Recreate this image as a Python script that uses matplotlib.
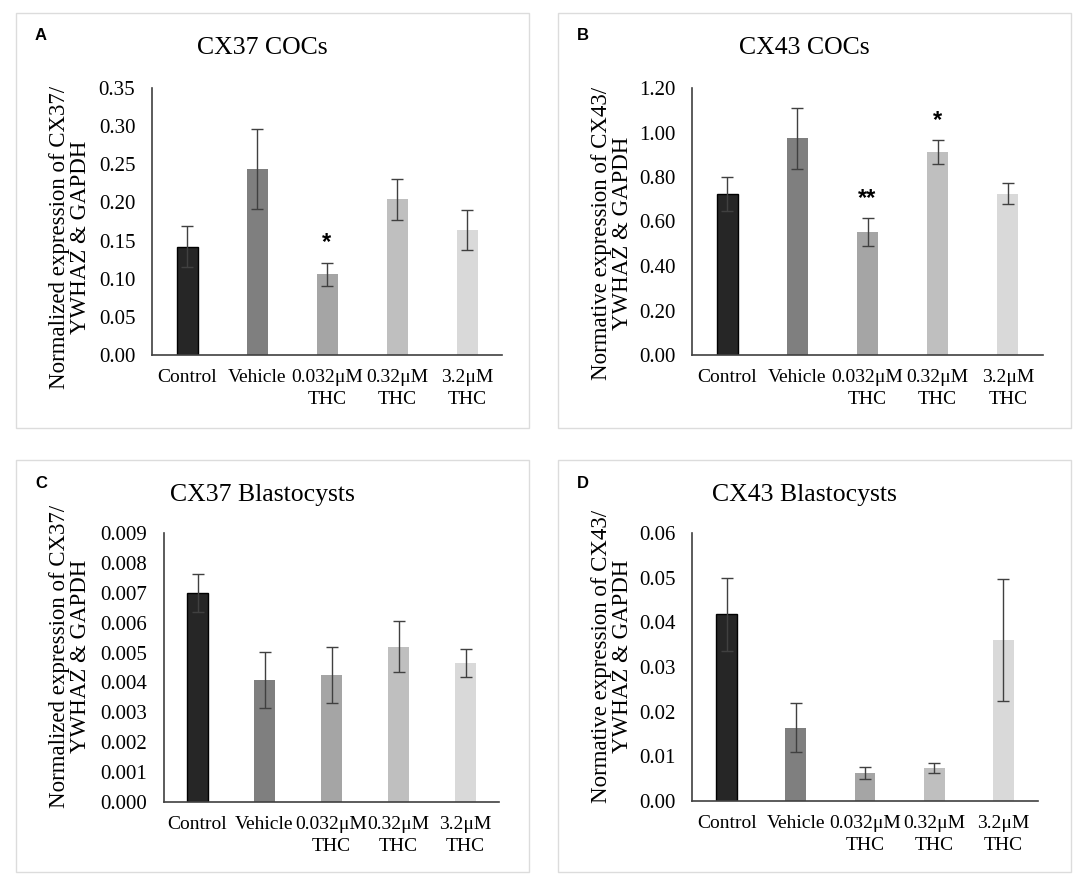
import matplotlib
matplotlib.use("Agg")
import matplotlib.pyplot as plt
from matplotlib.patches import Rectangle

W, H = 1084, 891

groups = ["Control", "Vehicle", "0.032\u03bcM\nTHC", "0.32\u03bcM\nTHC", "3.2\u03bcM\nTHC"]
bar_colors = ["#262626", "#7f7f7f", "#a5a5a5", "#bfbfbf", "#d9d9d9"]

cx37_cocs = [0.142, 0.244, 0.106, 0.204, 0.164]
cx37_cocs_err = [0.027, 0.052, 0.015, 0.027, 0.026]
cx37_cocs_ticks = [0.00, 0.05, 0.10, 0.15, 0.20, 0.25, 0.30, 0.35]
cx37_cocs_stars = ["", "", "*", "", ""]

cx43_cocs = [0.724, 0.975, 0.553, 0.912, 0.724]
cx43_cocs_err = [0.076, 0.137, 0.063, 0.054, 0.047]
cx43_cocs_ticks = [0.00, 0.20, 0.40, 0.60, 0.80, 1.00, 1.20]
cx43_cocs_stars = ["", "", "**", "*", ""]

cx37_blast = [0.00699, 0.00408, 0.00425, 0.00519, 0.00465]
cx37_blast_err = [0.00064, 0.00095, 0.00095, 0.00085, 0.00047]
cx37_blast_ticks = [0.000, 0.001, 0.002, 0.003, 0.004, 0.005, 0.006, 0.007, 0.008, 0.009]

cx43_blast = [0.0418, 0.0164, 0.0063, 0.0074, 0.0360]
cx43_blast_err = [0.0082, 0.0055, 0.0013, 0.0012, 0.0137]
cx43_blast_ticks = [0.00, 0.01, 0.02, 0.03, 0.04, 0.05, 0.06]

SERIF = ["Liberation Serif", "DejaVu Serif"]
SANS = ["Liberation Sans", "DejaVu Sans"]


def px_rect(left, top, right, bottom):
    return [left / W, 1 - bottom / H, (right - left) / W, (bottom - top) / H]


def px_text(fig, x, y, s, **kw):
    fig.text(x / W, 1 - y / H, s, **kw)


def draw_panel(fig, letter, title, ylabel, means, errs, ticks, fmt,
               frame, axes_px, label_y, stars=None):
    # light grey frame around the panel
    fl, ft, fr, fb = frame
    fig.patches.append(Rectangle((fl / W, 1 - fb / H), (fr - fl) / W, (fb - ft) / H,
                                 transform=fig.transFigure, fill=False,
                                 edgecolor="#dcdcdc", linewidth=1.0))

    l, t, r, b = axes_px
    ax = fig.add_axes(px_rect(l, t, r, b))
    x = list(range(len(groups)))
    ax.bar(x, means, width=0.3, color=bar_colors,
           edgecolor=["black", "none", "none", "none", "none"], linewidth=1.0,
           zorder=2)
    ax.errorbar(x, means, yerr=errs, fmt="none", ecolor="#404040",
                elinewidth=1.0, capsize=4, capthick=1.0, zorder=3)

    ax.set_xlim(-0.5, len(groups) - 0.5)
    ax.set_ylim(ticks[0], ticks[-1])
    ax.set_yticks(ticks)
    ax.set_yticklabels([fmt.format(v) for v in ticks], fontsize=15, family=SERIF)
    ax.set_xticks(x)
    ax.set_xticklabels(groups, fontsize=14, family=SERIF, linespacing=1.4)
    ax.tick_params(axis="y", length=0, pad=12)
    ax.tick_params(axis="x", length=0, pad=10)

    for side in ["top", "right"]:
        ax.spines[side].set_visible(False)
    for side in ["left", "bottom"]:
        ax.spines[side].set_color("#404040")
        ax.spines[side].set_linewidth(1.2)

    if stars:
        for xi, m, e, s in zip(x, means, errs, stars):
            if s:
                ax.annotate(s, (xi, m + e), xytext=(0, 6), textcoords="offset points",
                            ha="center", va="bottom", fontsize=17,
                            fontweight="bold", family=SANS)

    cx = (fl + fr) / 2
    px_text(fig, fl + 19, ft + 23, letter, fontsize=12, fontweight="bold",
            family=SANS, ha="left", va="center")
    px_text(fig, cx - 10, ft + 35, title, fontsize=18.5, family=SERIF,
            ha="center", va="center")
    px_text(fig, fl + 54, label_y, ylabel, fontsize=16.5, family=SERIF,
            rotation=90, ha="center", va="center", multialignment="center",
            linespacing=1.05)
    return ax


def main():
    fig = plt.figure(figsize=(W / 100, H / 100), dpi=100)

    draw_panel(fig, "A", "CX37 COCs", "Normalized expression of CX37/\nYWHAZ & GAPDH",
               cx37_cocs, cx37_cocs_err, cx37_cocs_ticks, "{:.2f}",
               (16, 13, 529, 428), (152, 88, 502, 355), 237, cx37_cocs_stars)

    draw_panel(fig, "B", "CX43 COCs", "Normative expression of CX43/\nYWHAZ & GAPDH",
               cx43_cocs, cx43_cocs_err, cx43_cocs_ticks, "{:.2f}",
               (558, 13, 1071, 428), (692, 88, 1043, 355), 233, cx43_cocs_stars)

    draw_panel(fig, "C", "CX37 Blastocysts", "Normalized expression of CX37/\nYWHAZ & GAPDH",
               cx37_blast, cx37_blast_err, cx37_blast_ticks, "{:.3f}",
               (16, 460, 529, 872), (164, 533, 499, 802), 656)

    draw_panel(fig, "D", "CX43 Blastocysts", "Normative expression of CX43/\nYWHAZ & GAPDH",
               cx43_blast, cx43_blast_err, cx43_blast_ticks, "{:.2f}",
               (558, 460, 1071, 872), (692, 533, 1038, 801), 656)

    fig.savefig("out.png", dpi=100)
    plt.close(fig)


if __name__ == "__main__":
    main()
